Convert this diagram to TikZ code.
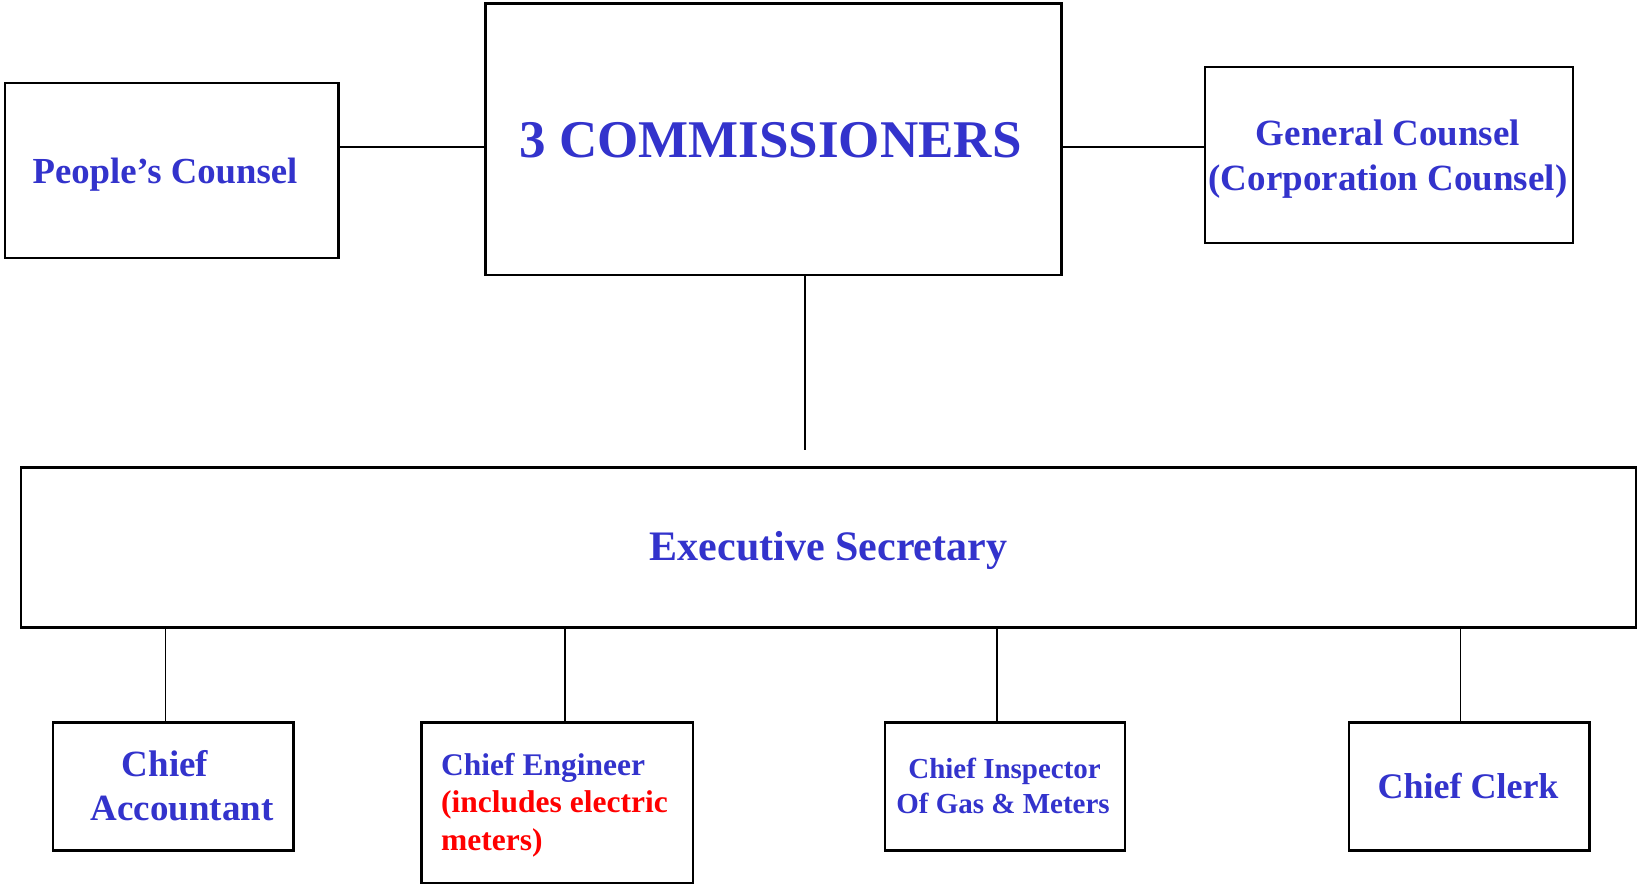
\documentclass[tikz,border=0pt]{standalone}
\usepackage{fontspec}
\setmainfont{Liberation Serif}
\definecolor{orgblue}{RGB}{51,51,204}
\definecolor{orgred}{RGB}{255,0,0}
\begin{document}
\begin{tikzpicture}[x=1pt,y=-1pt,
  unitbox/.style={draw=black, line width=2.4pt, rectangle, inner sep=0pt, fill=white},
  link/.style={draw=black, line width=1.6pt},
  lbl/.style={inner sep=0pt, anchor=base, text=orgblue, font=\bfseries\fontsize{#1}{#1}\selectfont},
  lbll/.style={inner sep=0pt, anchor=base west, text=orgblue, font=\bfseries\fontsize{#1}{#1}\selectfont}
]
\useasboundingbox (0,0) rectangle (1638,884);

% --- boxes ---
\node[unitbox, minimum width=333.5pt, minimum height=175pt] (pc) at (171.75,170.5) {};
\node[unitbox, minimum width=576pt, minimum height=271.5pt] (com) at (773.5,139.25) {};
\node[unitbox, minimum width=368pt, minimum height=176pt] (gc) at (1389,155) {};
\node[unitbox, minimum width=1615pt, minimum height=160pt] (es) at (828.5,547.3) {};
\node[unitbox, minimum width=240.5pt, minimum height=128pt] (ca) at (173.25,786.5) {};
\node[unitbox, minimum width=271.5pt, minimum height=160.5pt] (ce) at (557.25,802.75) {};
\node[unitbox, minimum width=240pt, minimum height=128pt] (ci) at (1005,786.5) {};
\node[unitbox, minimum width=240.5pt, minimum height=128pt] (cc) at (1469.25,786.5) {};

% --- connector guides ---
\coordinate (side) at (0,146.7);
\coordinate (drop) at (805,450);
\coordinate (ka) at (165.3,0);
\coordinate (ke) at (565,0);
\coordinate (ki) at (996.7,0);
\coordinate (kc) at (1460.5,0);

% --- connectors ---
\draw[link] (pc.east |- side) -- (com.west |- side);
\draw[link] (com.east |- side) -- (gc.west |- side);
\draw[link] (drop |- com.south) -- (drop);
\draw[link] (ka |- es.south) -- (ka |- ca.north);
\draw[link] (ke |- es.south) -- (ke |- ce.north);
\draw[link] (ki |- es.south) -- (ki |- ci.north);
\draw[link] (kc |- es.south) -- (kc |- cc.north);

% --- labels ---
\node[lbl=36.7] (tpc) at (165,183) {People’s Counsel};
\node[lbl=53] (tcom) at (770.5,157) {3 COMMISSIONERS};
\node[lbl=37] (tgc1) at (1388,145) {General Counsel};
\node[lbl=37] (tgc2) at (1388,190) {(Corporation Counsel)};
\node[lbl=42] (tes) at (828.5,560.7) {Executive Secretary};
\node[lbl=37] (tca1) at (165,776.7) {Chief};
\node[lbl=37] (tca2) at (182,820.7) {Accountant};
\node[lbll=31.5] (tce1) at (441,775) {Chief Engineer};
\node[lbll=31.5, text=orgred] (tce2) at (441,812.7) {(includes electric};
\node[lbll=31.5, text=orgred] (tce3) at (441,850.7) {meters)};
\node[lbl=29] (tci1) at (1004.6,778.3) {Chief Inspector};
\node[lbl=29] (tci2) at (1003,813.3) {Of Gas \& Meters};
\node[lbl=36] (tcc) at (1468,798.3) {Chief Clerk};
\end{tikzpicture}
\end{document}
